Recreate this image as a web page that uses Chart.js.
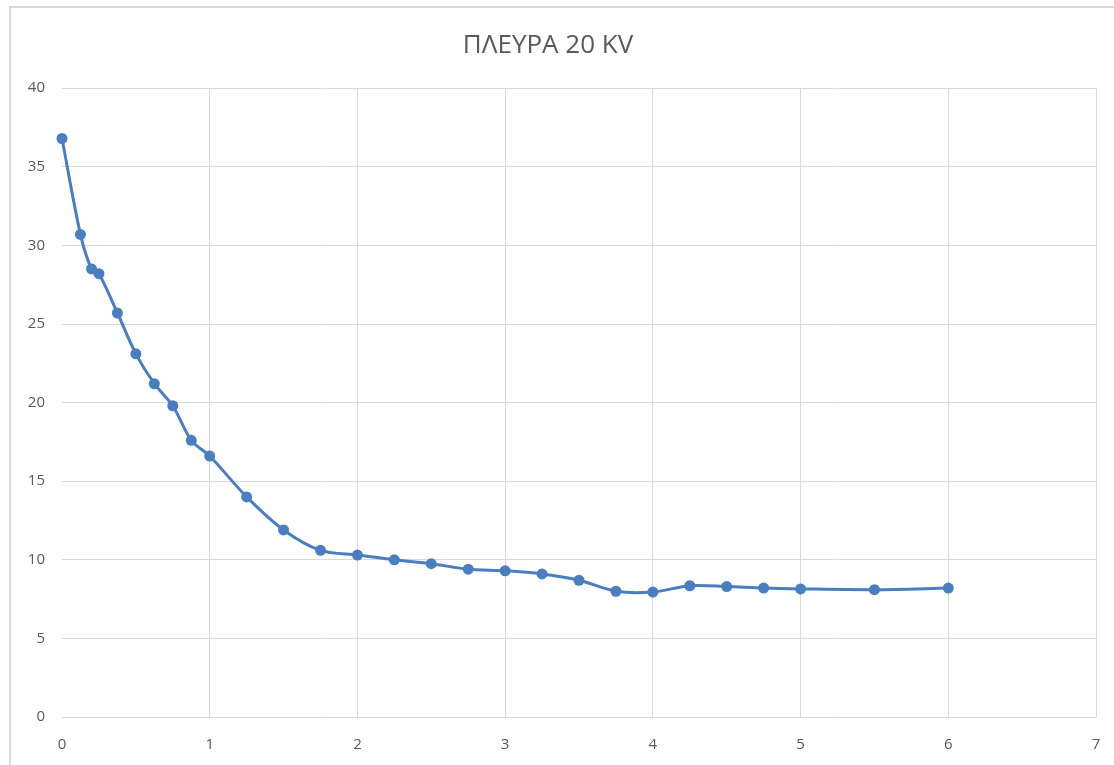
<!DOCTYPE html>
<html>
<head>
<meta charset="utf-8">
<script src="https://cdn.jsdelivr.net/npm/chart.js@4/dist/chart.umd.min.js"></script>
<style>
  html, body { margin: 0; padding: 0; background: #fff; }
  #wrap { position: relative; width: 1114px; height: 765px; overflow: hidden; }
  #frame { position: absolute; left: 9px; top: 6px; width: 1200px; height: 900px;
           border-top: 2px solid #d9d9d9; border-left: 2px solid #d9d9d9; }
  canvas { position: absolute; left: 0; top: 0; }
</style>
</head>
<body>
<div id="wrap">
  <div id="frame"></div>
  <canvas id="c" width="1114" height="765"></canvas>
</div>
<script>
const chartTitle = 'ΠΛΕΥΡΑ 20 KV';
const xValues = [0, 0.125, 0.2, 0.25, 0.375, 0.5, 0.625, 0.75, 0.875, 1, 1.25, 1.5, 1.75, 2, 2.25, 2.5, 2.75, 3, 3.25, 3.5, 3.75, 4, 4.25, 4.5, 4.75, 5, 5.5, 6];
const yValues = [36.8, 30.7, 28.5, 28.2, 25.7, 23.1, 21.2, 19.8, 17.6, 16.6, 14.0, 11.9, 10.6, 10.3, 10.0, 9.75, 9.4, 9.3, 9.1, 8.7, 8.0, 7.95, 8.35, 8.3, 8.2, 8.15, 8.1, 8.2];
const xTicks = [0, 1, 2, 3, 4, 5, 6, 7];
const yTicks = [0, 5, 10, 15, 20, 25, 30, 35, 40];

const points = xValues.map((x, i) => ({ x: x, y: yValues[i] }));
const FONT = '"Open Sans", "Liberation Sans", sans-serif';
const GRAY = '#595959';
const GRID = '#d9d9d9';

new Chart(document.getElementById('c'), {
  type: 'scatter',
  data: {
    datasets: [{
      data: points,
      showLine: true,
      clip: false,
      borderColor: '#4a7ebf',
      backgroundColor: '#4a7ebf',
      borderWidth: 3,
      pointRadius: 5.5,
      pointHoverRadius: 5.5,
      pointBorderWidth: 0,
      tension: 0.3
    }]
  },
  options: {
    responsive: false,
    animation: false,
    layout: { padding: { left: 0, right: 18, top: 0, bottom: 0 } },
    plugins: {
      legend: { display: false },
      tooltip: { enabled: false },
      title: {
        display: true,
        text: chartTitle,
        color: GRAY,
        font: { family: FONT, size: 26, weight: 'normal', lineHeight: 1.2 },
        padding: { top: 30, bottom: 27 }
      }
    },
    scales: {
      x: {
        type: 'linear',
        min: 0, max: 7,
        afterBuildTicks: (s) => { s.ticks = xTicks.map(v => ({ value: v })); },
        afterFit: (s) => { s.height = 48; s.paddingRight = 0; s.paddingLeft = 0; },
        border: { display: false },
        grid: {
          color: (ctx) => (ctx.tick && ctx.tick.value === 0) ? 'rgba(0,0,0,0)' : GRID,
          lineWidth: 1,
          drawTicks: false
        },
        ticks: { color: GRAY, font: { family: FONT, size: 15 }, padding: 19, maxRotation: 0 }
      },
      y: {
        type: 'linear',
        min: 0, max: 40,
        afterBuildTicks: (s) => { s.ticks = yTicks.map(v => ({ value: v })); },
        afterFit: (s) => { s.width = 62; },
        border: { display: false },
        grid: { color: GRID, lineWidth: 1, drawTicks: false },
        ticks: { color: GRAY, font: { family: FONT, size: 15 }, padding: 17 }
      }
    }
  }
});
</script>
</body>
</html>
